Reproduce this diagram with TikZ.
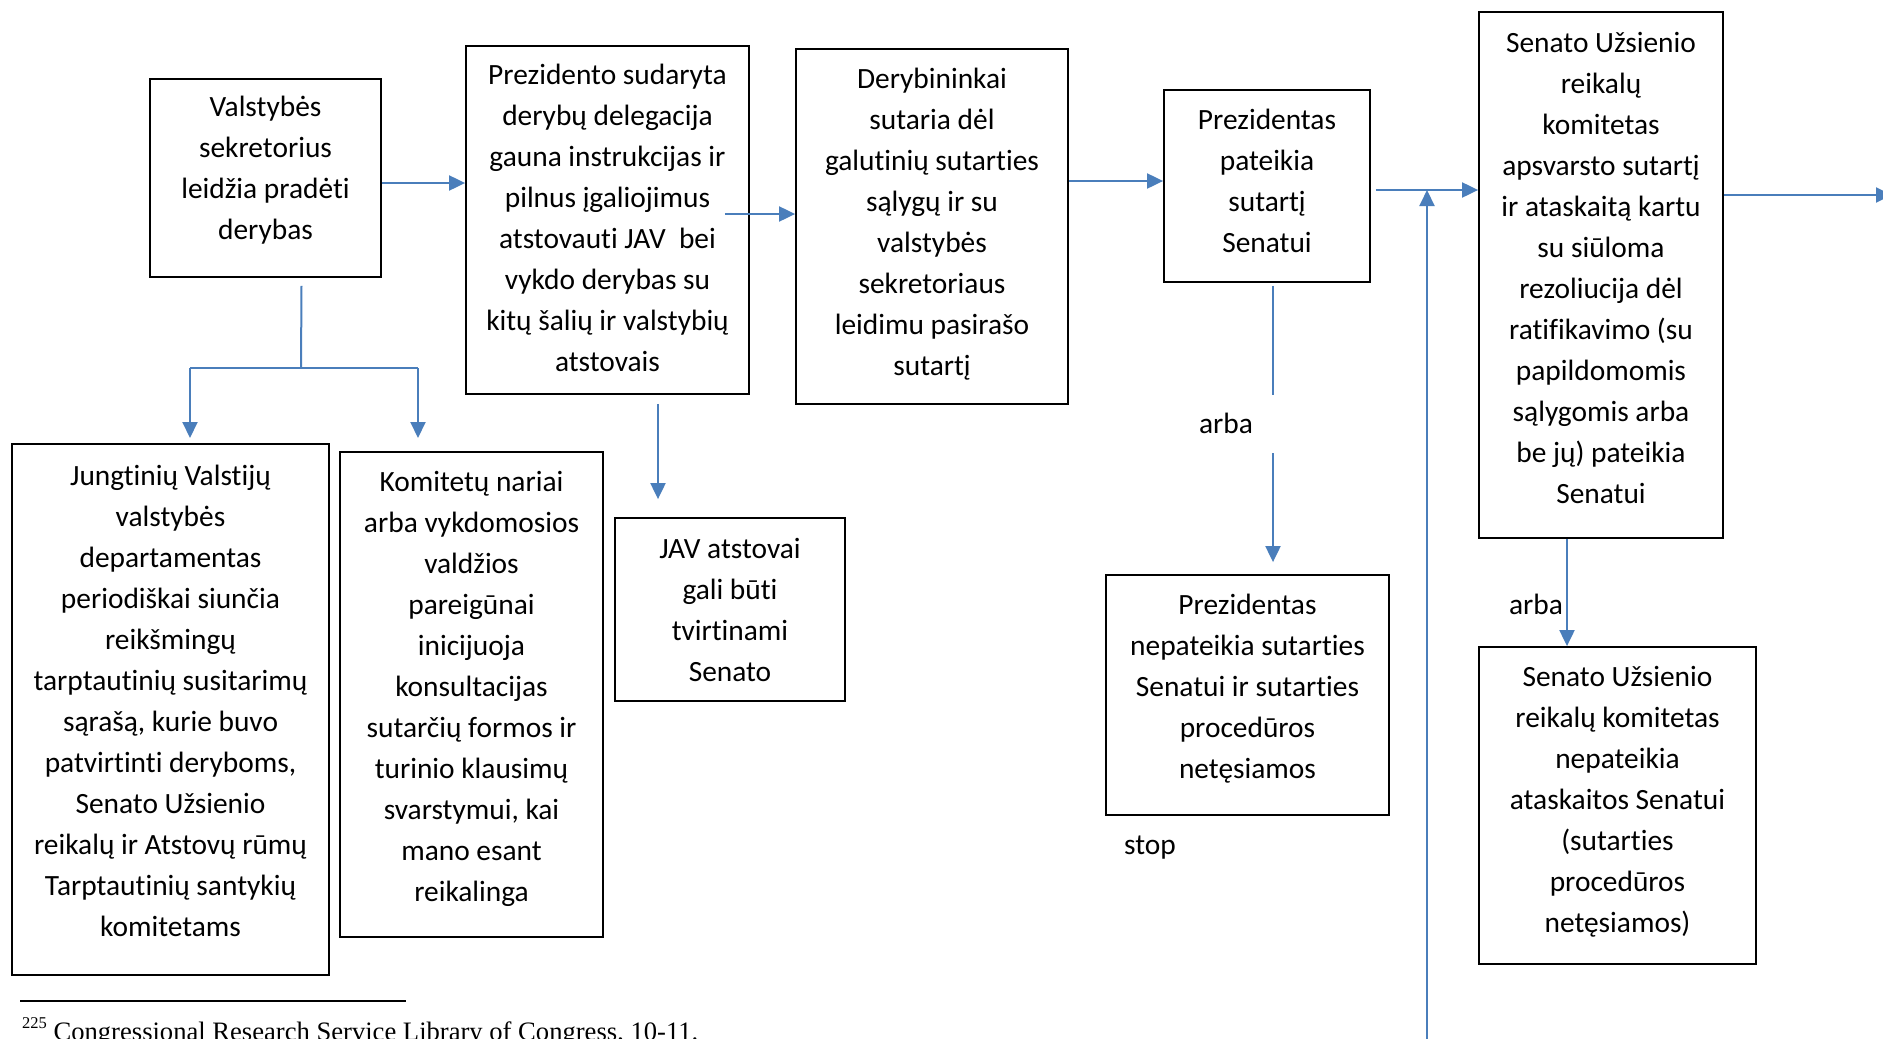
\documentclass[tikz,border=0pt]{standalone}
\usepackage{fontspec}
\setmainfont{Carlito}[Ligatures=NoCommon]
\newfontfamily\footfont{Liberation Serif}
\usetikzlibrary{arrows.meta,calc}
\definecolor{wblue}{HTML}{4A7EBB}
\begin{document}
\begin{tikzpicture}[x=1pt,y=-1pt,
  box/.style={draw, line width=1.8pt, inner sep=0pt},
  txt/.style={align=center, inner sep=0pt, font=\fontsize{29.4}{41}\selectfont},
  lbl/.style={inner sep=0pt, font=\fontsize{29.4}{41}\selectfont},
  arr/.style={wblue, line width=2pt, -{Triangle[length=16pt,width=15pt]}},
  ln/.style={wblue, line width=2pt}]
\path[use as bounding box] (0,0) rectangle (1883,1039);
\begin{scope}
\clip (0,0) rectangle (1883,1039);
% boxes
\node[box, minimum width=231pt, minimum height=198pt] (v) at (265.5,178) {};
\node[txt] (vt) at ($(v)+(0,-8)$) {Valstybės\\sekretorius\\leidžia pradėti\\derybas};
\node[box, minimum width=283pt, minimum height=348pt] (p) at (607.5,220) {};
\node[txt] (pt) at ($(p)+(0,-2.5)$)
  {Prezidento sudaryta\\derybų delegacija\\gauna instrukcijas ir\\pilnus įgaliojimus\\atstovauti JAV\ \ bei\\vykdo derybas su\\kitų šalių ir valstybių\\atstovais};
\node[box, minimum width=272pt, minimum height=355pt] (d) at (932,226.5) {};
\node[txt] (dt) at ($(d)+(0,-2.5)$)
  {Derybininkai\\sutaria dėl\\galutinių sutarties\\sąlygų ir su\\valstybės\\sekretoriaus\\leidimu pasirašo\\sutartį};
\node[box, minimum width=206pt, minimum height=192pt] (pp) at (1267,186) {};
\node[txt] (ppt) at ($(pp)+(0,-5)$) {Prezidentas\\pateikia\\sutartį\\Senatui};
\node[box, minimum width=244pt, minimum height=526pt] (s) at (1601,275) {};
\node[txt] (st) at ($(s)+(0,-7)$)
  {Senato Užsienio\\reikalų\\komitetas\\apsvarsto sutartį\\ir ataskaitą kartu\\su siūloma\\rezoliucija dėl\\ratifikavimo (su\\papildomomis\\sąlygomis arba\\be jų) pateikia\\Senatui};
\node[box, minimum width=317pt, minimum height=531pt] (j) at (170.5,709.5) {};
\node[txt] (jt) at ($(j)+(0,-9)$)
  {Jungtinių Valstijų\\valstybės\\departamentas\\periodiškai siunčia\\reikšmingų\\tarptautinių susitarimų\\sąrašą, kurie buvo\\patvirtinti deryboms,\\Senato Užsienio\\reikalų ir Atstovų rūmų\\Tarptautinių santykių\\komitetams};
\node[box, minimum width=263pt, minimum height=485pt] (k) at (471.5,694.5) {};
\node[txt] (kt) at ($(k)+(0,-6)$)
  {Komitetų nariai\\arba vykdomosios\\valdžios\\pareigūnai\\inicijuoja\\konsultacijas\\sutarčių formos ir\\turinio klausimų\\svarstymui, kai\\mano esant\\reikalinga};
\node[box, minimum width=230pt, minimum height=183pt] (a) at (730,609.5) {};
\node[txt] (at) at (a) {JAV atstovai\\gali būti\\tvirtinami\\Senato};
\node[box, minimum width=283pt, minimum height=240pt] (pn) at (1247.5,695) {};
\node[txt] (pnt) at ($(pn)+(0,-6)$)
  {Prezidentas\\nepateikia sutarties\\Senatui ir sutarties\\procedūros\\netęsiamos};
\node[box, minimum width=277pt, minimum height=317pt] (sn) at (1617.5,805.5) {};
\node[txt] (snt) at ($(sn)+(0,-4)$)
  {Senato Užsienio\\reikalų komitetas\\nepateikia\\ataskaitos Senatui\\(sutarties\\procedūros\\netęsiamos)};
% labels
\node[lbl] (arba1) at (1226,423) {arba};
\node[lbl] (arba2) at (1536,604) {arba};
\node[lbl] (stop) at (1150,848) {stop};
% free ends
\coordinate (bot) at (1427,1045);
\coordinate (rend) at (1892,195);
\coordinate (fork) at (301,368);
% connectors
\draw[arr] (v.east |- 0,183) -- (p.west |- 0,183);
\draw[arr] ($(p.east |- 0,214)+(-25,0)$) -- (d.west |- 0,214);
\draw[arr] (d.east |- 0,181) -- (pp.west |- 0,181);
\draw[arr] ($(pp.east |- 0,190)+(5,0)$) -- (s.west |- 0,190);
\draw[arr] (bot) -- (bot |- 0,190);
\draw[arr] (s.east |- 0,195) -- (rend);
% Valstybes fork
\draw[ln] ($(v.south)+(36,8)$) -- (fork);
\draw[ln] (190,368) -- (418,368);
\draw[arr] (190,368) -- (190,438);
\draw[arr] (418,368) -- (418,438);
% Prezidento -> JAV
\draw[arr] ($(p.south)+(50.5,9)$) -- ($(a.north)+(-72,-18)$);
% Prezidentas pateikia -> arba -> nepateikia
\draw[ln] ($(pp.south)+(6,3)$) -- (1273,395);
\draw[arr] (1273,453) -- ($(pn.north)+(25.5,-12)$);
% Senato -> nepateikia
\draw[arr] (s.south -| 1567,0) -- (sn.north -| 1567,0);
% footnote
\draw[line width=1.5pt] (20,1001) -- (406,1001);
\node[anchor=base west, inner sep=0pt, font=\footfont\fontsize{26.6}{30}\selectfont] (fn) at (22,1040)
  {\raisebox{0.45em}{\fontsize{16.5}{18}\selectfont 225} Congressional Research Service Library of Congress, 10-11.};
\end{scope}
\end{tikzpicture}
\end{document}
